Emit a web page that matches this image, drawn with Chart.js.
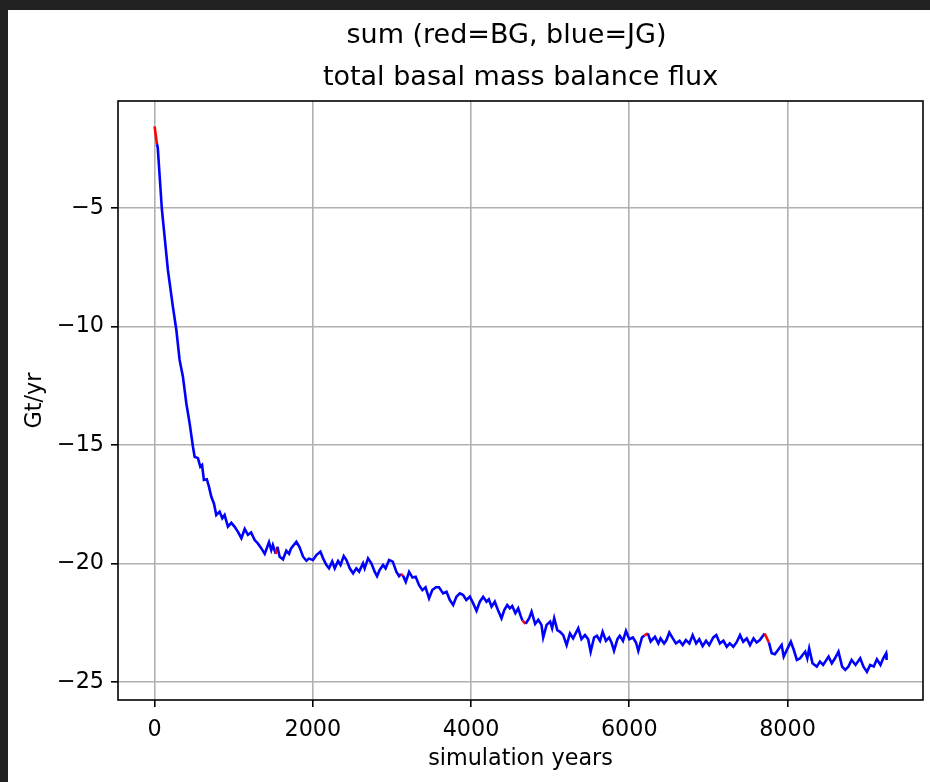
<!DOCTYPE html>
<html>
<head>
<meta charset="utf-8">
<script src="https://cdn.jsdelivr.net/npm/chart.js@4"></script>
<style>
  html, body { margin: 0; padding: 0; background: #222; }
  body { width: 930px; height: 782px; overflow: hidden; position: relative; }
  #chart { position: absolute; left: 8px; top: 10px; background: #fff; }
</style>
</head>
<body>
<canvas id="chart" width="922" height="772"></canvas>
<script>
// simulation year of each sample
const years = [
  0, 30, 40, 92, 168, 231, 275, 316, 358, 401, 443, 485, 506, 548, 578, 600, 623, 660, 687, 717,
  750, 780, 822, 856, 885, 927, 970, 1010, 1054, 1097, 1139, 1180, 1220, 1265, 1305, 1350, 1392, 1446, 1475, 1495,
  1531, 1552, 1581, 1623, 1665, 1700, 1725, 1792, 1830, 1877, 1919, 1950, 2003, 2045, 2096, 2130, 2172, 2205, 2245, 2277,
  2319, 2350, 2391, 2425, 2467, 2509, 2550, 2585, 2635, 2655, 2698, 2740, 2783, 2812, 2845, 2888, 2920, 2964, 3010, 3057,
  3090, 3115, 3140, 3175, 3217, 3260, 3300, 3343, 3385, 3425, 3469, 3510, 3555, 3595, 3647, 3690, 3732, 3774, 3815, 3858,
  3900, 3940, 3985, 4027, 4069, 4111, 4153, 4195, 4225, 4259, 4300, 4340, 4385, 4420, 4457, 4490, 4520, 4560, 4596, 4625,
  4650, 4690, 4735, 4765, 4810, 4850, 4890, 4912, 4955, 5000, 5025, 5051, 5090, 5125, 5165, 5208, 5250, 5290, 5355, 5395,
  5440, 5480, 5512, 5555, 5590, 5630, 5663, 5705, 5745, 5775, 5807, 5850, 5880, 5920, 5958, 6000, 6045, 6085, 6114, 6160,
  6190, 6235, 6270, 6325, 6367, 6395, 6440, 6470, 6506, 6550, 6590, 6635, 6675, 6715, 6760, 6801, 6845, 6885, 6927, 6970,
  7010, 7062, 7100, 7145, 7190, 7232, 7270, 7315, 7355, 7400, 7440, 7485, 7526, 7570, 7610, 7650, 7711, 7766, 7800, 7840,
  7880, 7926, 7952, 8042, 8080, 8118, 8160, 8190, 8224, 8250, 8274, 8316, 8370, 8410, 8450, 8519, 8560, 8600, 8644, 8690,
  8730, 8770, 8810, 8860, 8919, 8960, 9004, 9045, 9090, 9130, 9175, 9210, 9246, 9252
];

// total basal mass balance flux, Gt/yr
const flux = [
  -1.55, -2.3, -2.45, -5.05, -7.61, -9.16, -10.15, -11.41, -12.12, -13.24, -14.09, -15.08, -15.5, -15.56, -15.92, -15.85, -16.48, -16.45, -16.76, -17.19,
  -17.47, -17.96, -17.82, -18.1, -17.96, -18.45, -18.29, -18.45, -18.67, -18.94, -18.55, -18.8, -18.7, -19.02, -19.16, -19.37, -19.6, -19.11, -19.44, -19.23,
  -19.6, -19.3, -19.72, -19.83, -19.47, -19.6, -19.37, -19.09, -19.3, -19.72, -19.89, -19.8, -19.86, -19.65, -19.51, -19.79, -20.07, -20.21, -19.92, -20.21,
  -19.9, -20.07, -19.69, -19.86, -20.21, -20.42, -20.21, -20.35, -20.0, -20.21, -19.79, -20.0, -20.36, -20.54, -20.28, -20.07, -20.21, -19.86, -19.93, -20.36,
  -20.54, -20.45, -20.52, -20.78, -20.36, -20.6, -20.57, -20.92, -21.13, -21.01, -21.48, -21.13, -21.01, -21.01, -21.27, -21.2, -21.55, -21.76, -21.41, -21.27,
  -21.34, -21.55, -21.41, -21.69, -22.0, -21.62, -21.41, -21.62, -21.52, -21.83, -21.62, -21.97, -22.32, -21.97, -21.76, -21.9, -21.8, -22.1, -21.9, -22.2,
  -22.42, -22.55, -22.32, -22.04, -22.56, -22.38, -22.6, -23.13, -22.6, -22.46, -22.74, -22.32, -22.82, -22.89, -23.03, -23.45, -22.96, -23.17, -22.74, -23.2,
  -23.03, -23.2, -23.73, -23.13, -23.06, -23.27, -22.89, -23.27, -23.13, -23.34, -23.69, -23.2, -23.06, -23.27, -22.85, -23.2, -23.13, -23.34, -23.69, -23.13,
  -23.05, -22.96, -23.3, -23.1, -23.38, -23.17, -23.38, -23.24, -22.92, -23.17, -23.38, -23.27, -23.45, -23.24, -23.38, -23.03, -23.38, -23.2, -23.49, -23.27,
  -23.45, -23.13, -23.03, -23.38, -23.27, -23.52, -23.38, -23.52, -23.34, -23.03, -23.31, -23.17, -23.45, -23.17, -23.34, -23.24, -22.96, -23.35, -23.8, -23.84,
  -23.66, -23.45, -23.94, -23.31, -23.66, -24.08, -24.01, -23.87, -23.73, -24.01, -23.59, -24.22, -24.36, -24.15, -24.29, -23.94, -24.22, -24.01, -23.73, -24.36,
  -24.5, -24.36, -24.08, -24.29, -24.01, -24.36, -24.58, -24.29, -24.36, -24.05, -24.29, -24.01, -23.8, -24.08
];

// year spans run with BG (drawn red); everything else is JG (blue)
const bgSpans = [[0, 30], [1531, 1552], [3115, 3140], [4650, 4690], [6190, 6235], [7711, 7766]];

const xTicks = [0, 2000, 4000, 6000, 8000];
const yTicks = [-5, -10, -15, -20, -25];

const supTitle = 'sum (red=BG, blue=JG)';
const axTitle = 'total basal mass balance flux';

const points = years.map((y, i) => ({ x: y, y: flux[i] }));

function isBG(year) {
  return bgSpans.some(s => year >= s[0] && year < s[1]);
}

const font = { family: '"DejaVu Sans", sans-serif', size: 22.3 };

const titles = {
  id: 'titles',
  afterDraw(chart) {
    const { ctx, chartArea } = chart;
    const cx = (chartArea.left + chartArea.right) / 2;
    ctx.save();
    ctx.fillStyle = '#000';
    ctx.font = '27px "DejaVu Sans", sans-serif';
    ctx.textAlign = 'center';
    ctx.textBaseline = 'middle';
    ctx.fillText(supTitle, cx - 14, 26);
    ctx.fillText(axTitle, cx, 68);
    ctx.restore();
  }
};

const frame = {
  id: 'frame',
  afterDatasetsDraw(chart) {
    const { ctx, chartArea: a } = chart;
    ctx.save();
    ctx.strokeStyle = '#000';
    ctx.lineWidth = 1.6;
    ctx.strokeRect(a.left, a.top, a.right - a.left, a.bottom - a.top);
    ctx.restore();
  }
};

new Chart(document.getElementById('chart'), {
  type: 'line',
  data: {
    datasets: [{
      data: points,
      borderColor: '#0000ff',
      borderWidth: 2.6,
      pointRadius: 0,
      tension: 0,
      segment: {
        borderColor: c => isBG(years[c.p0DataIndex]) ? '#ff0000' : '#0000ff'
      }
    }]
  },
  options: {
    responsive: false,
    animation: false,
    devicePixelRatio: 1,
    layout: { padding: { top: 91, right: 7, left: 0, bottom: 0 } },
    plugins: {
      legend: { display: false },
      tooltip: { enabled: false }
    },
    scales: {
      x: {
        type: 'linear',
        min: -462.5,
        max: 9712.5,
        afterBuildTicks: s => { s.ticks = xTicks.map(v => ({ value: v })); },
        afterFit: s => { s.height = 82; },
        grid: { color: '#b0b0b0', lineWidth: 1.6, tickColor: '#000', tickLength: 7, tickWidth: 1.6 },
        border: { display: false },
        ticks: { color: '#000', font: font, padding: 10, maxRotation: 0, callback: v => String(v) },
        title: { display: true, text: 'simulation years', color: '#000', font: font, padding: { top: 0, bottom: 9 } }
      },
      y: {
        type: 'linear',
        min: -25.77,
        max: -0.48,
        afterBuildTicks: s => { s.ticks = yTicks.map(v => ({ value: v })); },
        afterFit: s => { s.width = 110; },
        grid: { color: '#b0b0b0', lineWidth: 1.6, tickColor: '#000', tickLength: 7, tickWidth: 1.6 },
        border: { display: false },
        ticks: {
          color: '#000', font: font, padding: 7,
          callback: v => String(v).replace('-', '\u2212')
        },
        title: { display: true, text: 'Gt/yr', color: '#000', font: font, padding: { top: 14, bottom: 0 } }
      }
    }
  },
  plugins: [titles, frame]
});
</script>
</body>
</html>
